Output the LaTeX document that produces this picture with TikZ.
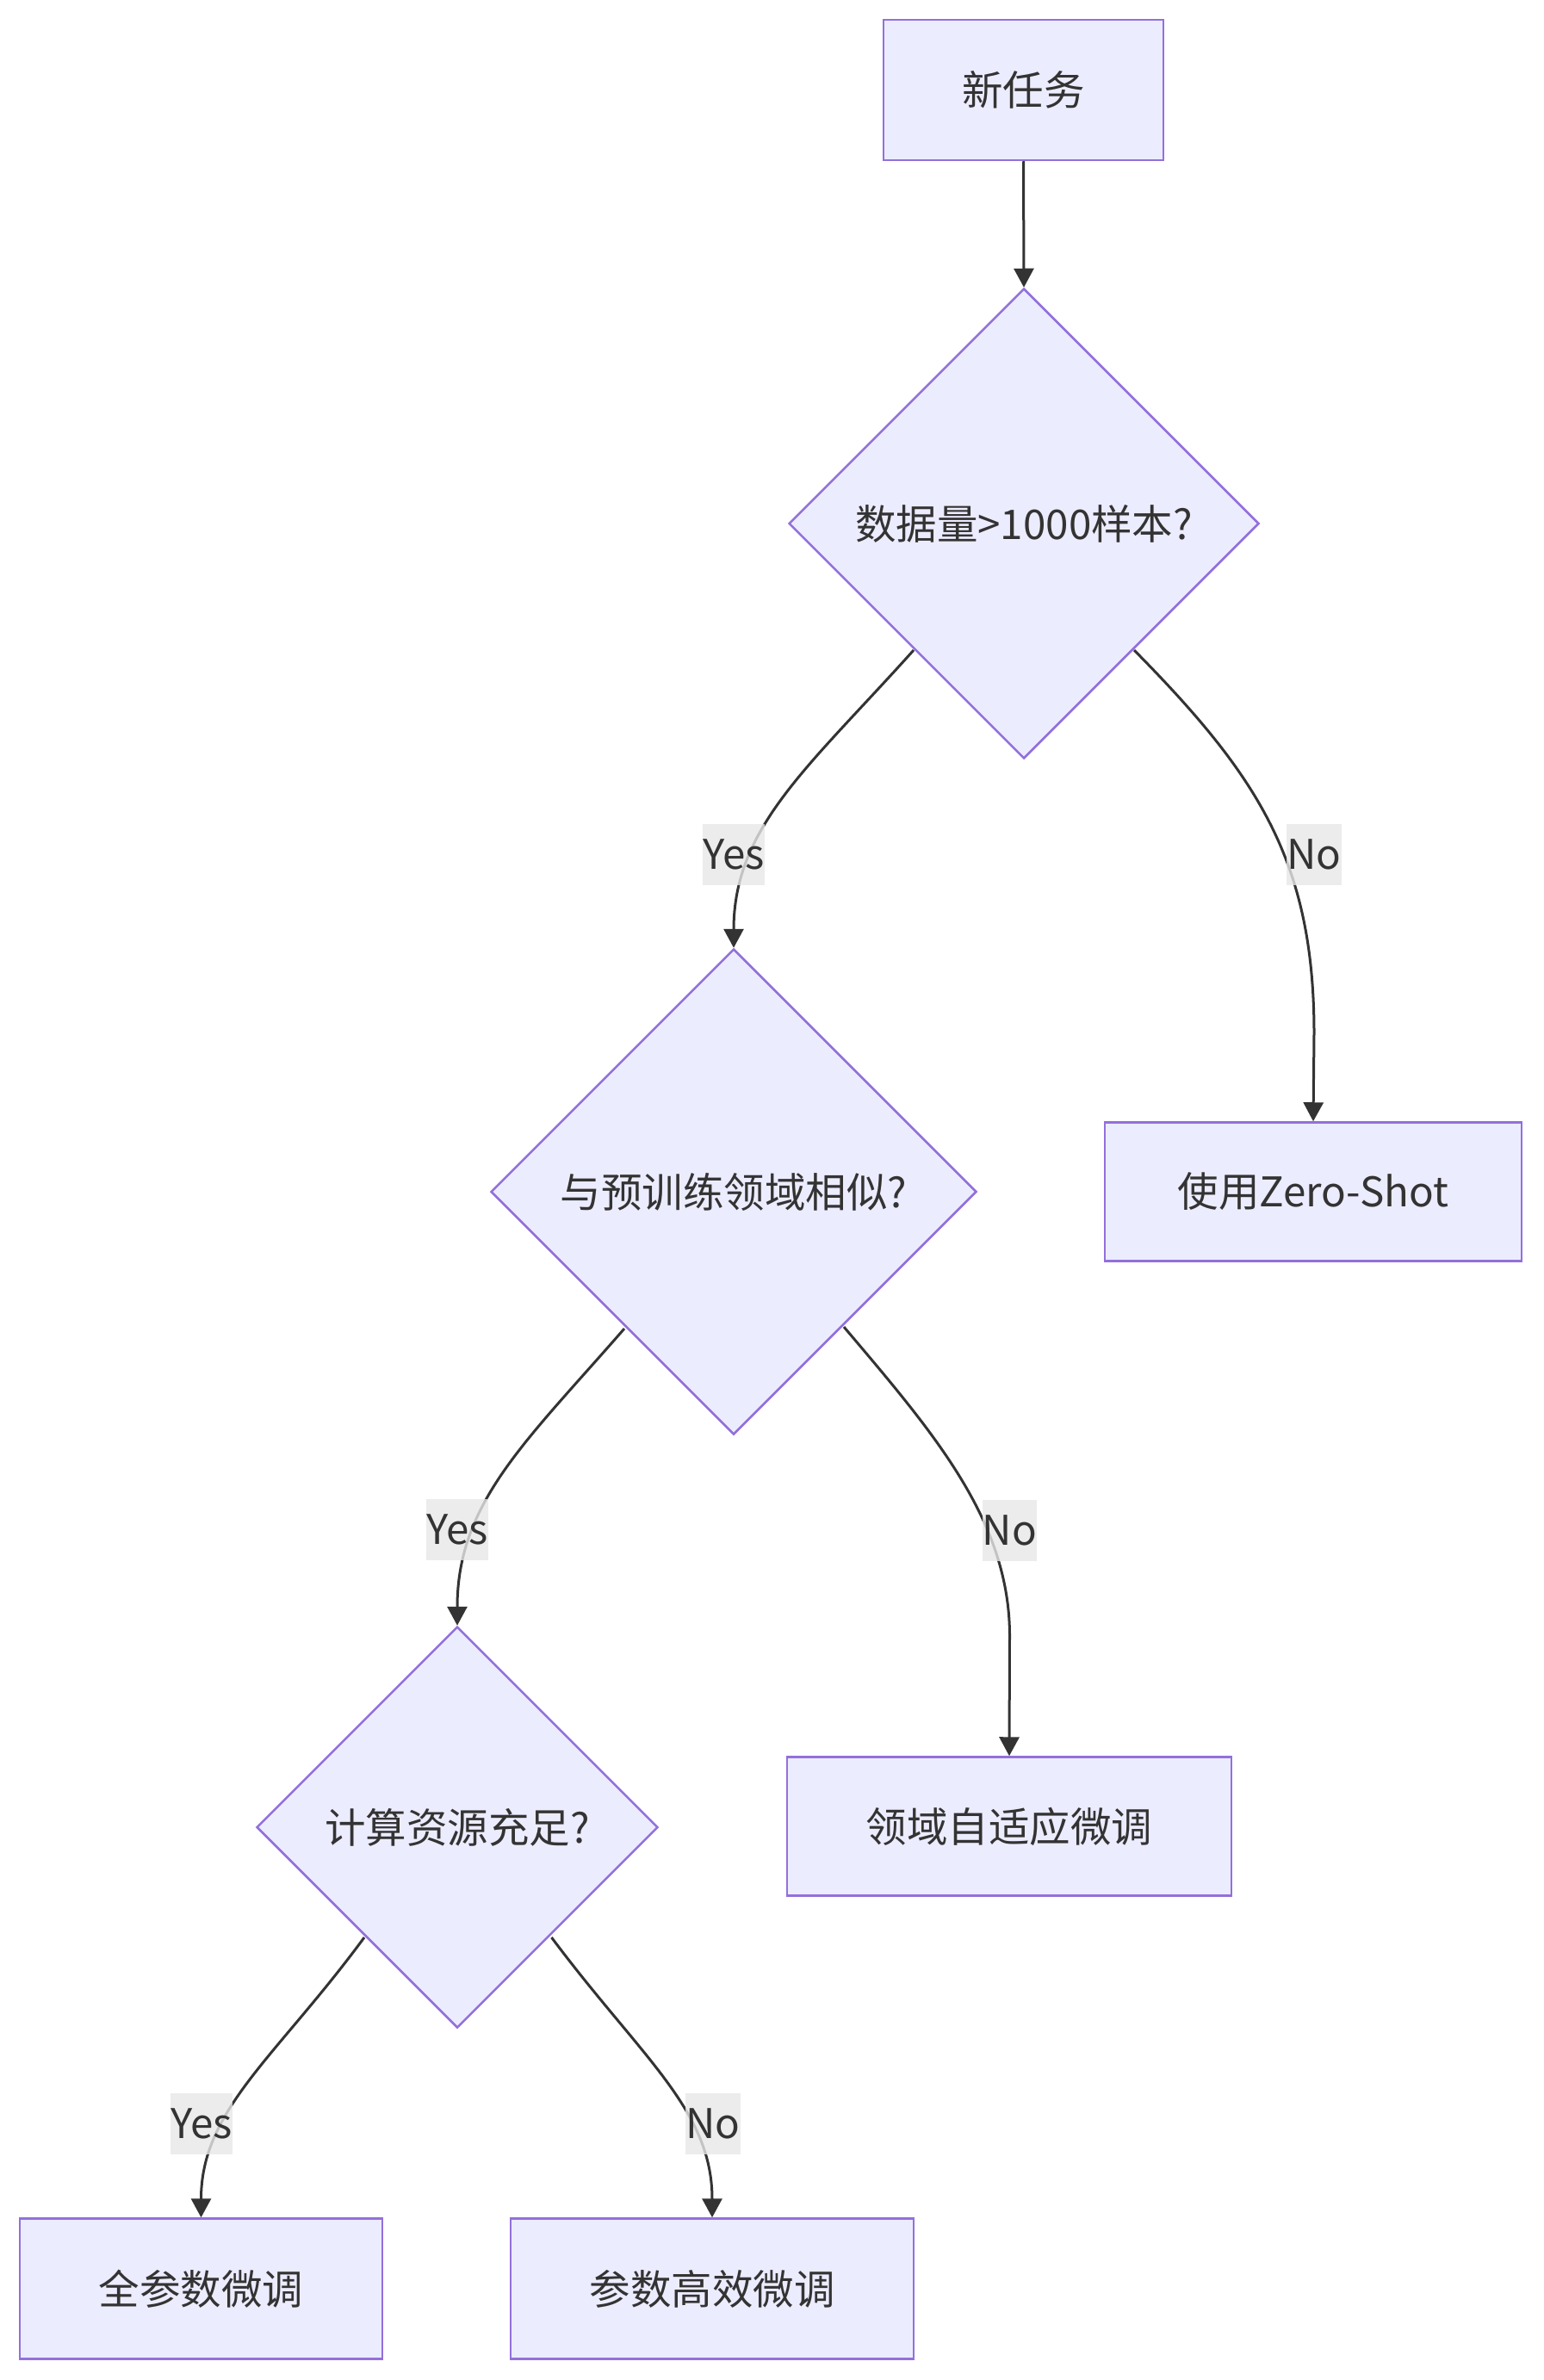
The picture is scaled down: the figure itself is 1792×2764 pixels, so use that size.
\documentclass[tikz,border=0pt]{standalone}
\usepackage{fontspec}
\newfontfamily\cjk{Noto Sans CJK SC}
\usetikzlibrary{shapes.geometric,arrows.meta,calc}
\definecolor{nodefill}{HTML}{ECECFF}
\definecolor{nodeline}{HTML}{9370DB}
\definecolor{edgecol}{HTML}{333333}
\definecolor{txtcol}{HTML}{333333}
\definecolor{lblbg}{HTML}{E8E8E8}
\begin{document}
\begin{tikzpicture}[x=1pt,y=-1pt,
  basefont/.style={font=\cjk\fontsize{47.5}{56}\selectfont, text=txtcol},
  box/.style={basefont, rectangle, draw=nodeline, fill=nodefill, line width=2.5pt, inner sep=0pt},
  decision/.style={basefont, diamond, aspect=1, draw=nodeline, fill=nodefill, line width=2.5pt, inner sep=0pt},
  edge/.style={draw=edgecol, line width=3pt, -{Triangle[length=22pt,width=23pt]}},
  lbl/.style={basefont, fill=lblbg, fill opacity=0.8, text opacity=1, inner xsep=0pt, inner ysep=0pt, minimum height=71pt}
]
\useasboundingbox (0,0) rectangle (1792,2764);
\fill[white] (0,0) rectangle (1792,2764);

% nodes
\node[box, minimum width=325pt, minimum height=163pt] (nt) at (1188.5,104.5) {新任务};
\node[decision, minimum width=546pt, minimum height=546pt] (d1) at (1189,608) {数据量>1000样本?};
\node[decision, minimum width=564pt, minimum height=564pt] (d2) at (852,1384) {与预训练领域相似?};
\node[box, minimum width=484pt, minimum height=161pt] (zs) at (1525,1384) {使用Zero-Shot};
\node[decision, minimum width=466pt, minimum height=466pt] (d3) at (531,2122) {计算资源充足?};
\node[box, minimum width=516pt, minimum height=161pt] (da) at (1172,2121) {领域自适应微调};
\node[box, minimum width=421pt, minimum height=163pt] (fp) at (233.5,2658) {全参数微调};
\node[box, minimum width=468pt, minimum height=163pt] (pe) at (827,2658) {参数高效微调};

% edges
\draw[edge] (nt.south) -- (d1.north);
\draw[edge] ($(d1)+(-128,147)$) .. controls (940,890) and (852,960) .. (d2.north);
\draw[edge] ($(d1)+(128,147)$) .. controls (1460,900) and (1526,1000) .. (1526,1200) -- (zs.north);
\draw[edge] ($(d2)+(-127,159)$) .. controls (610,1675) and (531,1745) .. (d3.north);
\draw[edge] ($(d2)+(128,157)$) .. controls (1085,1665) and (1172.5,1766) .. (1172.5,1900) -- (da.north);
\draw[edge] ($(d3)+(-108,128)$) .. controls (320,2390) and (233.5,2450) .. (fp.north);
\draw[edge] ($(d3)+(109.5,128)$) .. controls (745,2390) and (827,2450) .. (pe.north);

% labels
\node[lbl] (l1) at (852,992) {Yes};
\node[lbl] (l2) at (1526,992) {No};
\node[lbl] (l3) at (531,1776) {Yes};
\node[lbl] (l4) at (1172.5,1777) {No};
\node[lbl] (l5) at (234,2466) {Yes};
\node[lbl] (l6) at (828,2466) {No};
\end{tikzpicture}
\end{document}
